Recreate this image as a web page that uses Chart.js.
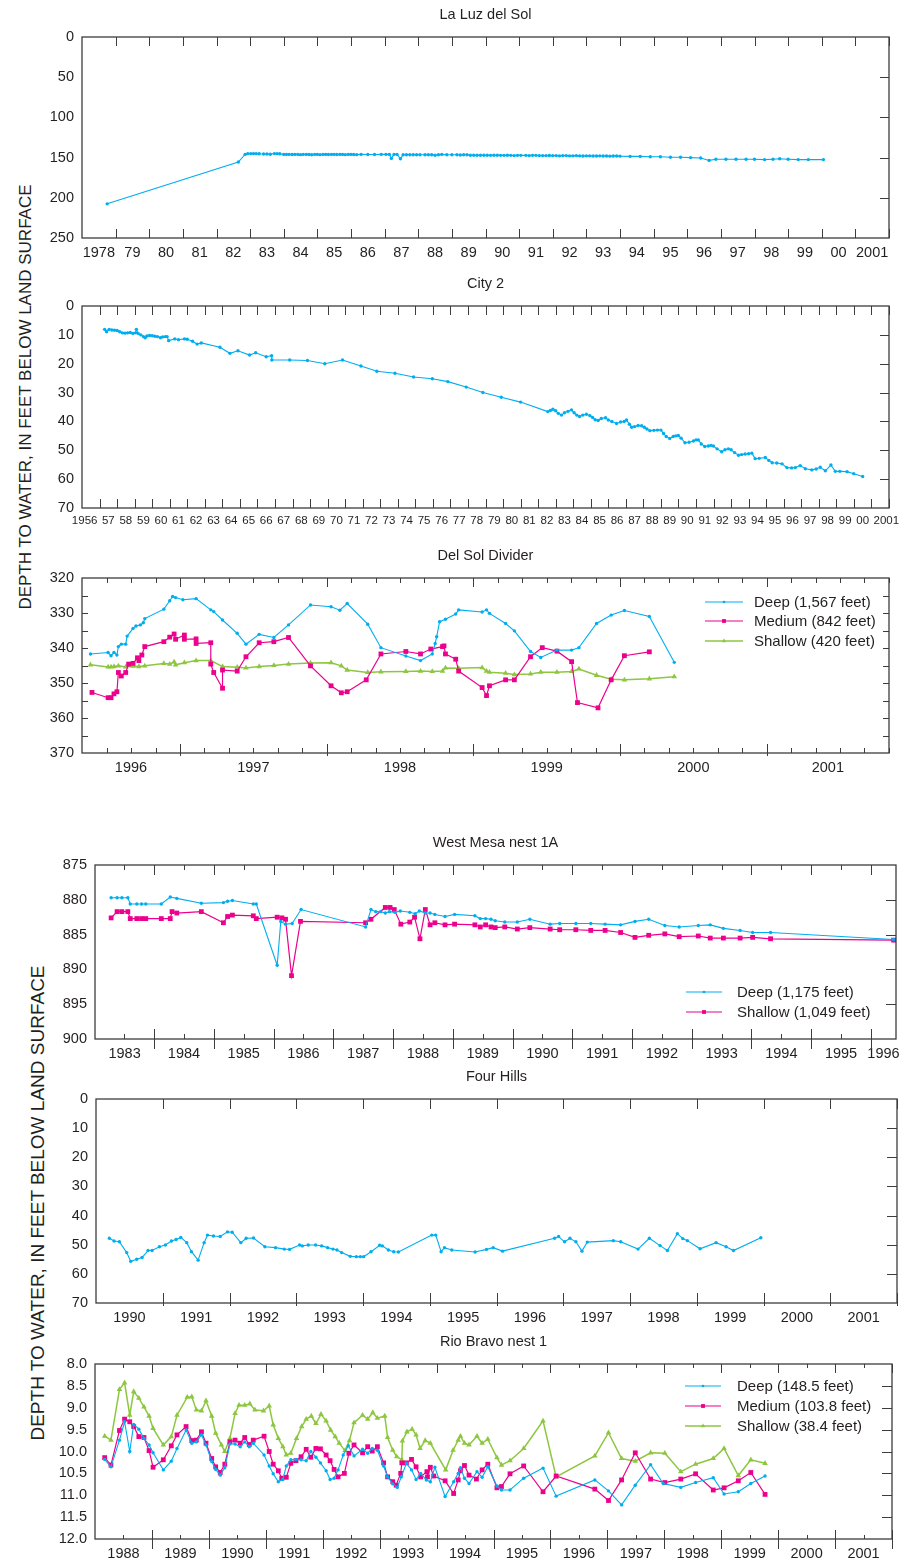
<!DOCTYPE html>
<html>
<head>
<meta charset="utf-8">
<script src="https://cdn.jsdelivr.net/npm/chart.js@4.4.1/dist/chart.umd.min.js"></script>
<style>
  body { margin: 0; background: #fff; width: 906px; height: 1559px; position: relative; overflow: hidden;
         font-family: "Liberation Sans", Arial, sans-serif; }
  canvas { position: absolute; left: 0; }
  .ytitle { position: absolute; white-space: nowrap; color: #231f20;
            transform: translate(-50%, -50%) rotate(-90deg); }
</style>
</head>
<body>
<div class="ytitle" style="left:26px;top:397px;font-size:17px">DEPTH TO WATER, IN FEET BELOW LAND SURFACE</div>
<div class="ytitle" style="left:38px;top:1203px;font-size:19px">DEPTH TO WATER, IN FEET BELOW LAND SURFACE</div>
<script>
// ---- La Luz del Sol ----
const lazYearLabels = ['1978','79','80','81','82','83','84','85','86','87','88','89','90','91','92','93','94','95','96','97','98','99','00','2001'];
const lazDepthTicks = [0, 50, 100, 150, 200, 250];
const lazYear = [1978.75,1982.65,1982.85,1982.93,1983.02,1983.1,1983.18,1983.27,1983.4,1983.5,1983.6,1983.72,1983.8,1983.88,
  1984.0,1984.08,1984.16,1984.25,1984.33,1984.42,1984.5,1984.58,1984.67,1984.75,1984.83,1984.92,1985.0,1985.08,1985.17,1985.25,
  1985.33,1985.42,1985.5,1985.58,1985.67,1985.75,1985.83,1985.92,1986.0,1986.08,1986.17,1986.3,1986.5,1986.7,1986.9,1987.04,
  1987.14,1987.2,1987.28,1987.37,1987.47,1987.55,1987.65,1987.75,1987.85,1987.95,1988.05,1988.2,1988.3,1988.4,1988.5,1988.6,
  1988.7,1988.85,1989.0,1989.15,1989.25,1989.35,1989.45,1989.55,1989.65,1989.75,1989.85,1989.95,1990.05,1990.15,1990.25,1990.35,
  1990.45,1990.55,1990.65,1990.75,1990.85,1990.95,1991.05,1991.2,1991.3,1991.4,1991.5,1991.6,1991.7,1991.8,1991.9,1992.0,
  1992.1,1992.2,1992.3,1992.4,1992.5,1992.6,1992.7,1992.8,1992.9,1993.0,1993.1,1993.2,1993.3,1993.4,1993.5,1993.6,1993.7,
  1993.8,1993.9,1994.0,1994.3,1994.6,1994.9,1995.2,1995.5,1995.8,1996.1,1996.4,1996.65,1996.85,1997.15,1997.45,1997.75,
  1998.0,1998.3,1998.55,1998.75,1999.0,1999.3,1999.6,2000.05];
const lazDepth = [207.5,155.5,146.0,145.0,145.0,145.0,145.0,145.3,145.5,145.5,145.8,145.0,145.0,145.2,
  146.0,146.0,146.0,146.2,146.0,146.0,146.3,146.0,146.0,146.2,146.5,146.0,146.0,146.3,146.0,146.0,
  146.2,146.0,146.0,146.2,146.0,146.0,146.3,146.0,146.0,146.2,146.3,146.0,146.2,146.2,146.0,146.0,
  146.0,151.0,146.0,146.0,151.5,146.5,146.5,146.5,146.5,146.5,146.5,146.5,146.5,146.5,147.0,146.5,
  146.0,146.5,146.5,146.5,146.8,146.5,146.5,147.0,147.0,147.0,147.0,147.0,147.0,147.2,147.0,147.0,
  147.2,147.2,147.0,147.2,147.5,147.2,147.2,147.2,147.5,147.2,147.2,147.5,147.5,147.5,147.3,147.5,
  147.5,147.8,147.5,147.5,147.8,147.8,147.5,147.8,148.0,147.8,147.8,148.0,148.0,147.8,148.0,148.0,148.2,
  148.0,148.0,148.2,148.5,148.5,149.0,149.0,149.5,149.5,150.0,150.5,153.5,152.0,152.0,152.0,152.0,
  152.0,152.5,152.0,151.5,152.0,152.5,152.5,152.5];

// ---- City 2 ----
const city2YearLabels = ['1956','57','58','59','60','61','62','63','64','65','66','67','68','69','70','71','72','73','74','75',
  '76','77','78','79','80','81','82','83','84','85','86','87','88','89','90','91','92','93','94','95','96','97','98','99','00','2001'];
const city2DepthTicks = [0, 10, 20, 30, 40, 50, 60, 70];
const city2Year = [1957.29,1957.4,1957.55,1957.7,1957.85,1958.0,1958.15,1958.3,1958.45,1958.6,1958.75,1958.9,1959.05,1959.1,
  1959.2,1959.35,1959.5,1959.6,1959.7,1959.85,1960.0,1960.15,1960.3,1960.47,1960.6,1960.75,1960.85,1960.94,1961.29,1961.5,
  1961.84,1962.0,1962.3,1962.56,1962.8,1963.86,1964.43,1964.89,1965.55,1965.9,1966.5,1966.81,1966.82,1967.84,1968.85,
  1969.84,1970.85,1971.9,1972.81,1973.84,1974.9,1975.97,1976.85,1977.9,1978.85,1979.9,1981.0,1982.55,1982.7,1982.84,
  1983.0,1983.15,1983.33,1983.5,1983.7,1983.9,1984.05,1984.2,1984.36,1984.55,1984.75,1984.95,1985.1,1985.25,1985.42,
  1985.6,1985.84,1986.0,1986.2,1986.47,1986.7,1986.9,1987.04,1987.2,1987.33,1987.5,1987.7,1987.9,1988.05,1988.2,1988.37,
  1988.6,1988.8,1989.0,1989.15,1989.3,1989.5,1989.7,1989.85,1989.99,1990.15,1990.37,1990.6,1990.85,1991.0,1991.13,1991.3,
  1991.5,1991.7,1991.85,1991.99,1992.2,1992.46,1992.65,1992.84,1993.0,1993.2,1993.42,1993.6,1993.8,1994.0,1994.18,1994.37,
  1994.6,1994.95,1995.15,1995.34,1995.6,1995.9,1996.18,1996.45,1996.66,1996.94,1997.23,1997.6,1997.85,1998.08,1998.37,
  1998.69,1998.94,1999.2,1999.61,1999.99,2000.5];
const city2Depth = [8.1,8.9,8.1,8.3,8.4,8.5,8.9,9.3,9.4,9.3,9.2,9.5,9.3,8.1,
  9.5,10.0,10.6,11.0,10.4,10.2,10.3,10.5,10.6,11.0,10.7,10.6,10.6,12.0,11.4,11.7,
  11.4,11.5,12.2,13.2,12.8,14.3,16.4,15.5,17.0,16.2,17.6,17.2,18.7,18.7,18.9,
  20.0,18.7,20.8,22.6,23.3,24.6,25.2,26.2,28.1,30.0,31.6,33.3,36.6,36.2,35.8,
  36.3,37.2,37.8,37.0,36.5,36.0,37.0,37.8,38.3,37.8,37.5,38.0,38.6,39.4,39.7,
  39.0,38.7,39.5,40.0,40.7,40.2,40.0,39.5,41.0,42.0,41.8,41.4,41.5,42.0,42.6,43.2,
  43.1,43.0,43.0,44.2,45.2,45.9,45.2,45.0,44.9,45.8,47.4,47.2,46.8,46.4,46.4,47.8,
  48.7,48.5,48.3,48.5,49.5,50.5,49.8,49.5,49.8,50.8,51.7,51.5,51.3,51.2,51.0,52.9,
  52.8,52.5,53.5,54.3,54.4,54.7,56.0,56.1,56.0,55.3,56.4,56.8,56.5,55.9,57.1,
  55.1,57.3,57.3,57.4,58.1,59.1];

// ---- Del Sol Divider ----
const dsdYearLabels = ['1996','1997','1998','1999','2000','2001'];
const dsdDepthTicks = [320, 330, 340, 350, 360, 370];
const dsdDeepYear = [1996.39,1996.51,1996.53,1996.55,1996.57,1996.58,1996.60,1996.63,1996.64,1996.68,1996.70,1996.73,1996.75,
  1996.76,1996.89,1996.93,1996.95,1996.97,1997.02,1997.11,1997.21,1997.23,1997.29,1997.39,1997.45,1997.54,1997.64,1997.74,
  1997.89,1998.03,1998.09,1998.14,1998.28,1998.37,1998.54,1998.64,1998.72,1998.74,1998.75,1998.77,1998.81,1998.88,1998.90,
  1999.06,1999.09,1999.11,1999.22,1999.28,1999.39,1999.46,1999.57,1999.67,1999.72,1999.84,1999.94,2000.03,2000.20,2000.37];
const dsdDeepDepth = [341.7,341.3,342.2,341.3,342.0,339.6,338.9,338.9,336.6,334.4,333.7,333.4,332.8,
  331.6,328.9,326.5,325.3,325.6,326.2,325.9,329.1,329.6,332.0,335.8,338.9,336.1,337.0,333.4,
  327.7,328.2,329.2,327.3,333.2,339.9,342.3,343.6,341.7,338.7,336.8,332.5,331.8,330.3,329.1,
  329.7,329.1,330.1,333.0,335.1,341.0,342.7,340.6,340.6,339.9,333.0,330.6,329.3,331.0,344.1];
const dsdMediumYear = [1996.40,1996.51,1996.53,1996.55,1996.57,1996.58,1996.60,1996.63,1996.65,1996.68,1996.71,1996.72,1996.74,
  1996.76,1996.89,1996.93,1996.96,1996.97,1997.03,1997.03,1997.11,1997.11,1997.21,1997.21,1997.23,1997.29,1997.29,1997.39,
  1997.45,1997.54,1997.64,1997.74,1997.89,1998.03,1998.10,1998.14,1998.27,1998.37,1998.54,1998.64,1998.71,1998.79,1998.80,
  1998.81,1998.88,1998.90,1999.06,1999.09,1999.11,1999.22,1999.28,1999.39,1999.47,1999.57,1999.67,1999.71,1999.85,1999.94,
  2000.03,2000.20];
const dsdMediumDepth = [352.7,354.2,354.2,353.1,352.5,347.0,348.0,347.0,344.6,344.4,342.8,343.6,342.0,
  339.6,338.2,336.9,336.0,337.5,336.3,337.5,337.4,338.7,338.5,344.6,347.0,351.5,346.3,346.6,
  342.5,338.5,338.2,337.0,345.1,350.8,352.8,352.5,349.1,341.7,341.0,341.7,340.3,339.6,339.4,
  341.7,343.2,346.6,351.3,353.6,350.8,349.1,349.1,342.5,339.9,340.9,343.9,355.6,357.1,349.1,
  342.2,341.1];
const dsdShallowYear = [1996.39,1996.51,1996.53,1996.55,1996.58,1996.63,1996.68,1996.72,1996.76,1996.89,1996.93,1996.96,1996.97,
  1997.03,1997.11,1997.21,1997.29,1997.39,1997.45,1997.54,1997.64,1997.74,1997.89,1998.03,1998.10,1998.14,1998.28,1998.37,
  1998.54,1998.64,1998.72,1998.79,1998.81,1998.90,1999.06,1999.09,1999.11,1999.22,1999.28,1999.39,1999.46,1999.57,1999.67,
  1999.72,1999.84,1999.94,2000.03,2000.20,2000.37];
const dsdShallowDepth = [344.8,345.4,345.4,345.3,345.1,345.4,345.2,345.3,345.1,344.4,344.6,344.0,344.8,
  344.2,343.6,343.6,345.3,345.5,345.7,345.3,345.0,344.6,344.3,344.2,345.1,346.3,347.0,346.8,
  346.7,346.6,346.7,346.6,345.7,345.8,345.6,346.6,346.9,347.2,347.6,347.4,346.9,346.9,346.7,
  346.0,347.8,348.9,349.1,348.8,348.2];

// ---- West Mesa nest 1A ----
const wmYearLabels = ['1983','1984','1985','1986','1987','1988','1989','1990','1991','1992','1993','1994','1995','1996'];
const wmDepthTicks = [875, 880, 885, 890, 895, 900];
const wmDeepYear = [1983.28,1983.38,1983.46,1983.56,1983.60,1983.71,1983.79,1983.86,1984.12,1984.27,1984.38,1984.79,1985.16,
  1985.23,1985.31,1985.66,1985.71,1986.06,1986.12,1986.20,1986.31,1986.46,1987.54,1987.63,1987.71,1987.79,1987.87,1987.94,
  1988.03,1988.12,1988.28,1988.37,1988.44,1988.54,1988.62,1988.70,1988.87,1989.03,1989.37,1989.46,1989.55,1989.64,1989.71,
  1989.87,1990.08,1990.29,1990.63,1990.79,1991.06,1991.31,1991.55,1991.81,1992.05,1992.28,1992.55,1992.79,1993.11,1993.31,
  1993.53,1993.81,1994.02,1994.32,1996.38];
const wmDeepDepth = [879.7,879.7,879.7,879.7,880.6,880.6,880.6,880.6,880.6,879.6,879.8,880.5,880.4,
  880.2,880.1,880.6,880.6,889.4,883.1,883.5,883.4,881.4,883.9,881.4,881.7,881.7,881.9,881.7,
  881.8,881.6,881.8,882.0,881.6,881.9,881.9,882.1,882.4,882.1,882.3,882.7,882.7,882.8,883.0,
  883.2,883.2,882.8,883.5,883.4,883.4,883.4,883.5,883.6,883.1,882.8,883.7,883.9,883.7,883.6,
  884.1,884.4,884.7,884.7,885.7];
const wmShallowYear = [1983.28,1983.38,1983.46,1983.56,1983.60,1983.71,1983.79,1983.86,1984.12,1984.27,1984.30,1984.38,1984.79,
  1985.16,1985.23,1985.31,1985.66,1985.71,1986.06,1986.14,1986.20,1986.30,1986.45,1987.54,1987.63,1987.87,1987.95,1988.02,
  1988.13,1988.28,1988.36,1988.45,1988.54,1988.62,1988.70,1988.87,1989.03,1989.37,1989.46,1989.55,1989.64,1989.71,1989.87,
  1990.08,1990.29,1990.63,1990.79,1991.06,1991.31,1991.55,1991.81,1992.05,1992.28,1992.55,1992.79,1993.11,1993.31,1993.53,
  1993.81,1994.02,1994.32,1996.38];
const wmShallowDepth = [882.6,881.7,881.7,881.7,882.7,882.7,882.7,882.7,882.7,882.7,881.7,881.9,881.7,
  883.3,882.4,882.2,882.3,882.7,882.5,882.6,882.8,890.9,883.1,883.3,882.8,881.1,881.1,881.4,
  883.5,883.2,882.5,885.6,881.4,883.6,883.3,883.6,883.5,883.6,883.9,883.6,883.9,884.0,883.9,
  884.2,884.0,884.2,884.3,884.3,884.4,884.4,884.7,885.4,885.1,884.9,885.3,885.2,885.5,885.5,
  885.5,885.4,885.6,885.8];

// ---- Four Hills ----
const fhYearLabels = ['1990','1991','1992','1993','1994','1995','1996','1997','1998','1999','2000','2001'];
const fhDepthTicks = [0, 10, 20, 30, 40, 50, 60, 70];
const fhYear = [1990.20,1990.27,1990.35,1990.46,1990.52,1990.61,1990.69,1990.78,1990.84,1990.95,1991.04,1991.13,1991.20,
  1991.27,1991.36,1991.43,1991.53,1991.62,1991.67,1991.76,1991.86,1991.97,1992.04,1992.17,1992.25,1992.36,1992.53,1992.69,
  1992.82,1992.90,1993.05,1993.09,1993.18,1993.29,1993.38,1993.47,1993.55,1993.61,1993.68,1993.81,1993.90,1993.96,1994.01,
  1994.12,1994.25,1994.29,1994.38,1994.46,1994.53,1995.03,1995.09,1995.17,1995.22,1995.33,1995.68,1995.85,1995.95,1996.09,
  1996.87,1996.93,1997.02,1997.10,1997.19,1997.28,1997.36,1997.75,1997.86,1998.12,1998.29,1998.45,1998.56,1998.71,1998.79,
  1998.86,1999.05,1999.29,1999.44,1999.55,1999.96];
const fhDepth = [47.8,48.7,49.0,52.7,55.7,55.0,54.4,52.0,52.0,50.7,50.1,48.7,48.2,
  47.5,49.3,52.4,55.3,49.3,46.7,47.0,47.2,45.6,45.7,49.3,47.8,47.7,50.7,51.0,
  51.5,51.6,50.1,50.4,50.1,50.1,50.4,51.0,51.5,51.8,52.7,54.0,54.1,54.1,54.1,
  52.4,50.2,50.4,51.8,52.4,52.5,46.7,46.7,52.4,51.0,51.8,52.5,51.6,51.0,52.2,
  47.8,47.2,49.0,47.8,49.0,52.2,49.1,48.6,49.0,51.5,47.8,50.3,52.0,46.2,47.9,
  48.6,51.4,49.3,50.7,52.0,47.6];

// ---- Rio Bravo nest 1 ----
const rbYearLabels = ['1988','1989','1990','1991','1992','1993','1994','1995','1996','1997','1998','1999','2000','2001'];
const rbDepthTicks = [8.0, 8.5, 9.0, 9.5, 10.0, 10.5, 11.0, 11.5, 12.0];
const rbDeepYear = [1988.17,1988.28,1988.43,1988.52,1988.61,1988.68,1988.77,1988.86,1988.95,1989.02,1989.20,1989.34,1989.44,
  1989.60,1989.70,1989.78,1989.87,1989.95,1990.05,1990.12,1990.20,1990.28,1990.37,1990.46,1990.55,1990.63,1990.71,1990.78,
  1990.97,1991.06,1991.13,1991.22,1991.30,1991.36,1991.44,1991.53,1991.62,1991.71,1991.79,1991.88,1991.96,1992.06,1992.13,
  1992.20,1992.27,1992.36,1992.45,1992.55,1992.70,1992.79,1992.87,1992.96,1993.07,1993.14,1993.23,1993.31,1993.38,1993.47,
  1993.56,1993.64,1993.72,1993.82,1993.89,1993.97,1994.15,1994.30,1994.38,1994.42,1994.49,1994.57,1994.71,1994.80,1994.90,
  1995.06,1995.14,1995.29,1995.53,1995.87,1996.10,1996.78,1997.02,1997.25,1997.49,1997.76,1997.98,1998.29,1998.55,1998.86,
  1999.05,1999.30,1999.52,1999.77];
const rbDeepDepth = [10.18,10.35,9.74,9.32,10.00,9.38,9.49,9.70,9.85,10.03,10.42,10.22,9.93,
  9.51,9.81,9.78,9.62,9.85,10.23,10.41,10.54,10.37,9.83,9.83,9.89,9.78,9.89,9.81,
  10.08,10.33,10.51,10.69,10.64,10.33,10.19,10.18,10.19,10.21,10.00,10.13,10.26,10.44,10.64,
  10.61,10.42,10.08,9.87,10.10,9.95,10.04,9.93,9.97,10.33,10.58,10.74,10.82,10.58,10.27,
  10.42,10.64,10.50,10.65,10.69,10.36,11.03,10.69,10.50,10.37,10.61,10.73,10.46,10.59,10.35,
  10.79,10.88,10.88,10.61,10.38,11.02,10.65,10.90,11.22,10.77,10.30,10.73,10.82,10.71,10.60,
  10.97,10.92,10.73,10.56];
const rbMediumYear = [1988.17,1988.28,1988.43,1988.52,1988.61,1988.68,1988.77,1988.86,1988.95,1989.02,1989.20,1989.34,1989.44,
  1989.60,1989.70,1989.78,1989.87,1989.95,1990.05,1990.12,1990.20,1990.28,1990.37,1990.46,1990.55,1990.63,1990.71,1990.78,
  1990.97,1991.06,1991.13,1991.22,1991.28,1991.36,1991.44,1991.53,1991.62,1991.71,1991.79,1991.88,1991.96,1992.06,1992.13,
  1992.20,1992.27,1992.38,1992.46,1992.55,1992.70,1992.79,1992.87,1992.96,1993.07,1993.14,1993.23,1993.29,1993.37,1993.39,
  1993.47,1993.56,1993.64,1993.72,1993.83,1993.84,1993.89,1993.95,1994.15,1994.30,1994.38,1994.42,1994.49,1994.57,1994.70,
  1994.80,1994.90,1995.06,1995.14,1995.29,1995.53,1995.87,1996.10,1996.78,1997.02,1997.25,1997.49,1997.76,1998.01,1998.29,
  1998.55,1998.86,1999.05,1999.30,1999.52,1999.77];
const rbMediumDepth = [10.14,10.31,9.52,9.26,9.32,9.43,9.66,9.68,9.98,10.36,10.19,9.87,9.62,
  9.43,9.75,9.74,9.55,9.81,10.16,10.35,10.48,10.29,9.78,9.74,9.81,9.68,9.84,9.74,
  9.65,10.00,10.29,10.44,10.61,10.59,10.27,10.21,10.12,9.95,10.13,9.93,9.94,10.08,10.21,
  10.41,10.58,10.50,10.04,9.85,10.03,9.89,9.99,9.89,10.26,10.58,10.69,10.77,10.50,10.26,
  10.26,10.18,10.35,10.58,10.46,10.58,10.36,10.56,10.67,10.96,10.65,10.44,10.32,10.54,10.63,
  10.42,10.29,10.83,10.80,10.51,10.33,10.92,10.56,10.86,11.12,10.65,10.03,10.63,10.71,10.63,
  10.51,10.88,10.83,10.67,10.48,10.98];
const rbShallowYear = [1988.17,1988.28,1988.43,1988.52,1988.61,1988.68,1988.77,1988.86,1988.95,1989.02,1989.20,1989.34,1989.44,
  1989.62,1989.70,1989.78,1989.87,1989.95,1990.05,1990.12,1990.22,1990.28,1990.37,1990.46,1990.53,1990.63,1990.72,1990.81,
  1990.96,1991.06,1991.13,1991.22,1991.30,1991.36,1991.44,1991.54,1991.63,1991.71,1991.80,1991.88,1991.97,1992.06,1992.14,
  1992.22,1992.29,1992.39,1992.47,1992.55,1992.70,1992.79,1992.88,1992.96,1993.09,1993.14,1993.23,1993.30,1993.39,1993.40,
  1993.48,1993.57,1993.64,1993.71,1993.80,1993.89,1994.16,1994.29,1994.38,1994.42,1994.49,1994.57,1994.71,1994.80,1994.90,
  1995.06,1995.14,1995.29,1995.53,1995.87,1996.10,1996.78,1997.02,1997.25,1997.49,1997.76,1998.01,1998.29,1998.55,1998.86,
  1999.05,1999.30,1999.52,1999.77];
const rbShallowDepth = [9.65,9.74,8.58,8.43,9.17,8.63,8.78,8.98,9.19,9.47,9.85,9.66,9.17,
  8.76,8.75,9.05,9.07,8.84,9.19,9.58,9.85,10.00,9.70,9.13,8.94,8.94,8.91,9.05,
  9.07,8.96,9.39,9.70,9.89,10.08,10.04,9.70,9.43,9.26,9.19,9.36,9.15,9.30,9.51,
  9.66,9.81,9.98,9.75,9.34,9.17,9.26,9.11,9.24,9.19,9.68,9.97,10.12,10.19,9.76,
  9.55,9.49,9.62,9.93,9.75,9.81,10.42,9.97,9.74,9.65,9.81,9.85,9.65,9.81,9.72,
  10.14,10.31,10.21,9.93,9.30,10.58,10.10,9.57,10.16,10.22,10.03,10.04,10.46,10.29,10.16,
  9.93,10.55,10.19,10.27];

// ---- styling ----
const BLUE = '#00aeef', MAGENTA = '#ec008c', GREEN = '#8dc63f';
const INK = '#231f20', FRAME = '#3d3d3d';
const FONT = '"Liberation Sans", Arial, Helvetica, sans-serif';

function pairs(xs, ys) {
  return xs.map((x, i) => ({ x: x, y: ys[i] }));
}

function series(label, xs, ys, kind) {
  const s = {
    deep:    { color: BLUE,    style: 'circle',   radius: 1.7, width: 1.1 },
    medium:  { color: MAGENTA, style: 'rect',     radius: 3.4, width: 1.2 },
    shallow: { color: GREEN,   style: 'triangle', radius: 3.2, width: 1.5 }
  }[kind];
  return {
    label: label, data: pairs(xs, ys),
    borderColor: s.color, backgroundColor: s.color, borderWidth: s.width,
    pointStyle: s.style, pointRadius: s.radius, pointBorderWidth: 0, pointHoverRadius: s.radius,
    tension: 0, clip: 4
  };
}

function makeDecor(cfg, canvasTop) {
  return {
    id: 'decor',
    afterDraw(chart) {
      const ctx = chart.ctx, a = chart.chartArea, sx = chart.scales.x, sy = chart.scales.y;
      ctx.save();
      ctx.strokeStyle = FRAME;
      ctx.lineWidth = 1;
      ctx.beginPath();
      for (let y = Math.ceil(cfg.xMin); y <= cfg.xMax; y++) {
        if (y <= cfg.xMin) continue;
        const px = Math.round(sx.getPixelForValue(y)) + 0.5;
        ctx.moveTo(px, a.top); ctx.lineTo(px, a.top + cfg.majorIn);
        ctx.moveTo(px, a.bottom - cfg.majorIn); ctx.lineTo(px, a.bottom + cfg.majorOut);
      }
      if (cfg.minorStep) {
        for (let y = Math.floor(cfg.xMin); y <= cfg.xMax; y++) {
          for (let k = 1; k * cfg.minorStep < 0.999; k++) {
            const v = y + k * cfg.minorStep;
            if (v <= cfg.xMin + 0.01 || v >= cfg.xMax) continue;
            const px = Math.round(sx.getPixelForValue(v)) + 0.5;
            ctx.moveTo(px, a.top); ctx.lineTo(px, a.top + cfg.minorIn);
            ctx.moveTo(px, a.bottom - cfg.minorIn); ctx.lineTo(px, a.bottom);
          }
        }
      }
      for (let v = cfg.yMin + cfg.yStep; v < cfg.yMax - 1e-6; v += cfg.yStep) {
        const py = Math.round(sy.getPixelForValue(v)) + 0.5;
        ctx.moveTo(a.right - cfg.yLen, py); ctx.lineTo(a.right, py);
        if (cfg.leftTicks) { ctx.moveTo(a.left, py); ctx.lineTo(a.left + cfg.yLen, py); }
      }
      ctx.stroke();
      ctx.lineWidth = 1.3;
      ctx.strokeRect(a.left, a.top, a.right - a.left, a.bottom - a.top);

      ctx.fillStyle = INK;
      ctx.font = '14.5px ' + FONT;
      ctx.textAlign = 'center';
      ctx.textBaseline = 'middle';
      ctx.fillText(cfg.title, (a.left + a.right) / 2, a.top - 22);

      if (cfg.legend) {
        const lg = cfg.legend;
        ctx.font = '15px ' + FONT;
        ctx.textAlign = 'left';
        chart.data.datasets.forEach((ds, i) => {
          const y = lg.rows[i] - canvasTop;
          ctx.strokeStyle = ds.borderColor;
          ctx.lineWidth = ds.borderWidth;
          ctx.beginPath(); ctx.moveTo(lg.x1, y); ctx.lineTo(lg.x2, y); ctx.stroke();
          ctx.fillStyle = ds.backgroundColor;
          Chart.helpers.drawPoint(ctx, { pointStyle: ds.pointStyle, radius: ds.pointRadius * 0.8, rotation: 0, borderWidth: 0 },
            (lg.x1 + lg.x2) / 2, y);
          ctx.fillStyle = INK;
          ctx.fillText(ds.label, lg.tx, y + 1);
        });
      }
      ctx.restore();
    }
  };
}

function makePanel(cfg) {
  const [L, T, R, B] = cfg.area;
  const canvasTop = T - 40;
  const XH = 26;
  const cv = document.createElement('canvas');
  cv.width = 906;
  cv.height = B - T + 72;
  cv.style.top = canvasTop + 'px';
  document.body.appendChild(cv);

  const n = cfg.xLabels.length;
  const labelVals = cfg.xLabels.map((s, i) => {
    const y0 = cfg.firstYear + i;
    const lo = Math.max(y0, cfg.xMin), hi = Math.min(y0 + 1, cfg.xMax);
    let c = (lo + hi) / 2;
    if (cfg.edgeShift && i === 0) c -= cfg.edgeShift;
    if (cfg.edgeShift && i === n - 1) c += cfg.edgeShift;
    return c;
  });

  new Chart(cv, {
    type: 'line',
    data: { datasets: cfg.datasets },
    options: {
      responsive: false,
      animation: false,
      events: [],
      layout: { padding: { left: 0, top: 40, right: 906 - R, bottom: 32 - XH } },
      plugins: { legend: { display: false }, tooltip: { enabled: false }, title: { display: false } },
      scales: {
        x: {
          type: 'linear', min: cfg.xMin, max: cfg.xMax,
          grid: { display: false, drawTicks: false }, border: { display: false },
          afterFit: s => { s.height = XH; },
          afterBuildTicks: s => { s.ticks = labelVals.map(v => ({ value: v })); },
          ticks: {
            autoSkip: false, maxRotation: 0, minRotation: 0, padding: 6, color: INK,
            font: { family: FONT, size: cfg.xFont || 14.5 },
            callback: (v, i) => cfg.xLabels[i]
          }
        },
        y: {
          type: 'linear', reverse: true, min: cfg.yMin, max: cfg.yMax,
          grid: { display: false, drawTicks: false }, border: { display: false },
          afterFit: s => { s.width = L; },
          afterBuildTicks: s => { s.ticks = cfg.yLabels.map(v => ({ value: v })); },
          ticks: {
            autoSkip: false, padding: 8, color: INK,
            font: { family: FONT, size: 14.5 },
            callback: v => v.toFixed(cfg.yDecimals || 0)
          }
        }
      }
    },
    plugins: [makeDecor(cfg, canvasTop)]
  });
}

makePanel({
  title: 'La Luz del Sol', area: [82, 37, 889, 238],
  xMin: 1978, xMax: 2002, firstYear: 1978, xLabels: lazYearLabels,
  yMin: 0, yMax: 250, yStep: 50, yLabels: lazDepthTicks, yLen: 9,
  majorIn: 9, majorOut: 0,
  datasets: [series('La Luz del Sol', lazYear, lazDepth, 'deep')]
});

makePanel({
  title: 'City 2', area: [82, 306, 889, 508],
  xMin: 1956, xMax: 2002, firstYear: 1956, xLabels: city2YearLabels, xFont: 11.5, edgeShift: 0.35,
  yMin: 0, yMax: 70, yStep: 10, yLabels: city2DepthTicks, yLen: 9,
  majorIn: 9, majorOut: 0,
  datasets: [series('City 2', city2Year, city2Depth, 'deep')]
});

makePanel({
  title: 'Del Sol Divider', area: [82, 578, 889, 753],
  xMin: 1996.332, xMax: 2001.834, firstYear: 1996, xLabels: dsdYearLabels,
  yMin: 320, yMax: 370, yStep: 5, yLabels: dsdDepthTicks, yLen: 6, leftTicks: true,
  majorIn: 9, majorOut: 3, minorStep: 1 / 6, minorIn: 5,
  legend: { x1: 705, x2: 743, tx: 754, rows: [602, 621, 641] },
  datasets: [
    series('Deep (1,567 feet)', dsdDeepYear, dsdDeepDepth, 'deep'),
    series('Medium (842 feet)', dsdMediumYear, dsdMediumDepth, 'medium'),
    series('Shallow (420 feet)', dsdShallowYear, dsdShallowDepth, 'shallow')
  ]
});

makePanel({
  title: 'West Mesa nest 1A', area: [95, 865, 896, 1039],
  xMin: 1983.01, xMax: 1996.42, firstYear: 1983, xLabels: wmYearLabels,
  yMin: 875, yMax: 900, yStep: 5, yLabels: wmDepthTicks, yLen: 10,
  majorIn: 10, majorOut: 10, minorStep: 0.5, minorIn: 5,
  legend: { x1: 686, x2: 722, tx: 737, rows: [992, 1012] },
  datasets: [
    series('Deep (1,175 feet)', wmDeepYear, wmDeepDepth, 'deep'),
    series('Shallow (1,049 feet)', wmShallowYear, wmShallowDepth, 'medium')
  ]
});

makePanel({
  title: 'Four Hills', area: [96, 1099, 897, 1303],
  xMin: 1990, xMax: 2002, firstYear: 1990, xLabels: fhYearLabels,
  yMin: 0, yMax: 70, yStep: 10, yLabels: fhDepthTicks, yLen: 10,
  majorIn: 10, majorOut: 3,
  datasets: [series('Four Hills', fhYear, fhDepth, 'deep')]
});

makePanel({
  title: 'Rio Bravo nest 1', area: [95, 1364, 892, 1539],
  xMin: 1988, xMax: 2002, firstYear: 1988, xLabels: rbYearLabels,
  yMin: 8, yMax: 12, yStep: 0.5, yLabels: rbDepthTicks, yDecimals: 1, yLen: 10,
  majorIn: 9, majorOut: 10, minorStep: 0.5, minorIn: 4,
  legend: { x1: 685, x2: 721, tx: 737, rows: [1386, 1406, 1426] },
  datasets: [
    series('Deep (148.5 feet)', rbDeepYear, rbDeepDepth, 'deep'),
    series('Medium (103.8 feet)', rbMediumYear, rbMediumDepth, 'medium'),
    series('Shallow (38.4 feet)', rbShallowYear, rbShallowDepth, 'shallow')
  ]
});
</script>
</body>
</html>
